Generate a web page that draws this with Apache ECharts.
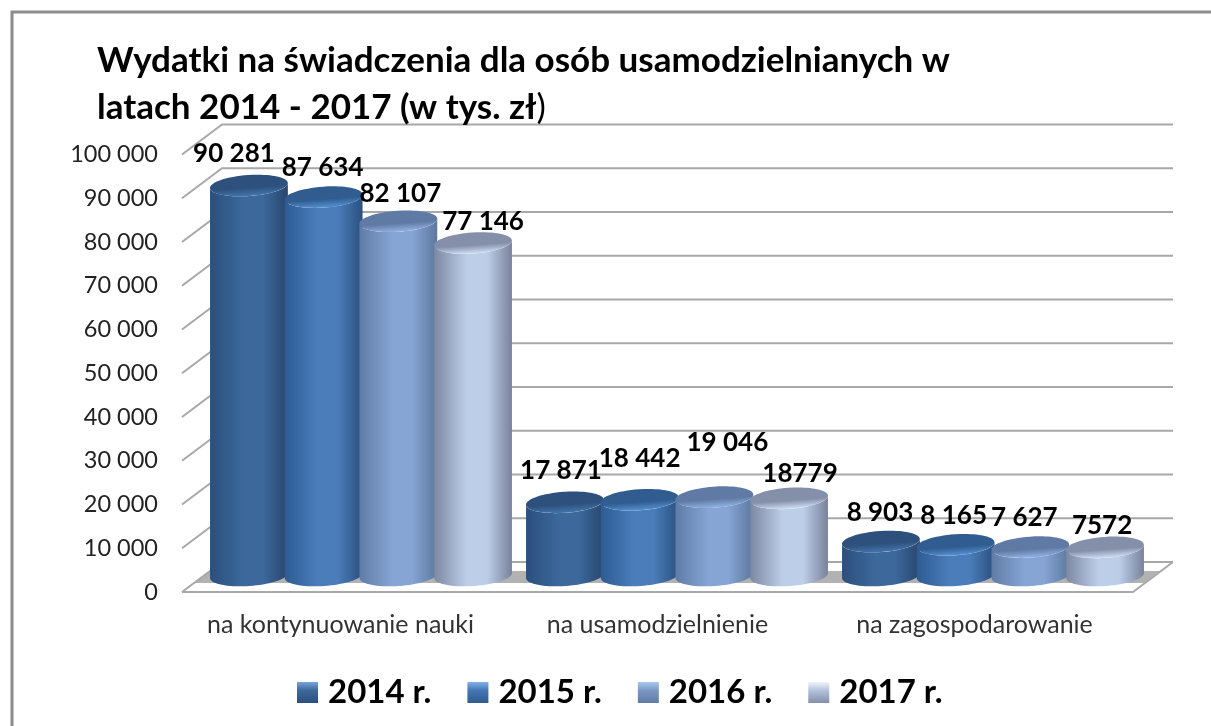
<!DOCTYPE html>
<html><head><meta charset="utf-8">
<style>html,body{margin:0;padding:0;background:#fff}#c{width:1211px;height:726px}</style>
<script src="https://cdn.jsdelivr.net/npm/echarts@6/dist/echarts.min.js"></script>
</head><body><div id="c"></div>
<script>
const categories = ['na kontynuowanie nauki', 'na usamodzielnienie', 'na zagospodarowanie'];
const years = ['2014 r.', '2015 r.', '2016 r.', '2017 r.'];
const values2014 = [90281, 17871, 8903];
const values2015 = [87634, 18442, 8165];
const values2016 = [82107, 19046, 7627];
const values2017 = [77146, 18779, 7572];
const labels2014 = ['90 281', '17 871', '8 903'];
const labels2015 = ['87 634', '18 442', '8 165'];
const labels2016 = ['82 107', '19 046', '7 627'];
const labels2017 = ['77 146', '18779', '7572'];
const tickValues = [0, 10000, 20000, 30000, 40000, 50000, 60000, 70000, 80000, 90000, 100000];

// hand-placed data label nudges (dx, dy from the cylinder's top centre)
const labelNudges = [
  [[-15, -32], [-4, -32], [-1, -29]],
  [[-1, -29], [0, -41], [-2, -29]],
  [[2, -28], [13, -55], [-6, -30]],
  [[10, -21], [11, -25], [-3, -22]]
];
const palette = [
  {edgeL:'#2b4f7d', mid:'#3c689c', edgeR:'#28466c', top:'#2d507c', rim:'#4276ae', lg:['#7aa4d8','#3c689c','#2c4f7c']},
  {edgeL:'#2e5b92', mid:'#4a7db9', edgeR:'#2a5080', top:'#305c90', rim:'#5590d0', lg:['#80b0ec','#4377b4','#2f5c90']},
  {edgeL:'#5f7ca6', mid:'#86a4d4', edgeR:'#5c789f', top:'#5f7ba5', rim:'#92b2e4', lg:['#a8c8f0','#7b98c4','#5f7ba5']},
  {edgeL:'#7d88a2', mid:'#bdcee9', edgeR:'#78829a', top:'#848fa9', rim:'#d0def4', lg:['#f0f4fc','#b4c2dc','#848fa9']}
];
const allValues = [values2014, values2015, values2016, values2017];
const allLabels = [labels2014, labels2015, labels2016, labels2017];

const DEPTH_X = 40, DEPTH_Y = 30, LINE = '#a8a8a8';
const TILT = -4 * Math.PI / 180;

function wallsItem(params, api) {
  const v = api.value(1), y = api.coord([0, v])[1], cs = params.coordSys;
  const x0 = cs.x, x1 = cs.x + cs.width;
  const children = [{
    type: 'polyline',
    shape: {points: [[x0, y], [x0 + DEPTH_X, y - DEPTH_Y], [x1 + DEPTH_X, y - DEPTH_Y]]},
    style: {stroke: LINE, lineWidth: 2, fill: null}
  }];
  if (v === 0) {
    children.unshift({
      type: 'polygon',
      shape: {points: [[x0 + 12, y - 9], [x0 + 28, y - 21], [x1 + 27, y - 21], [x1 + 11, y - 9]]},
      style: {fill: '#b2b2b2'}
    });
    children.push({
      type: 'polyline',
      shape: {points: [[x0, y], [x1, y], [x1 + DEPTH_X, y - DEPTH_Y]]},
      style: {stroke: LINE, lineWidth: 2, fill: null}
    });
  }
  return {type: 'group', children};
}

function cylinderItem(s) {
  return function (params, api) {
    const c = api.value(0), v = api.value(1);
    const pos = api.coord([c, v]);
    const band = api.size([1, 0])[0];
    const rx = band * 0.1234, ry = 10.5;
    const cx = pos[0] + (s - 1.5) * band * 0.2364;
    const topY = pos[1];
    const baseY = api.coord([c, 0])[1] - 5;
    const cosT = Math.cos(TILT), sinT = Math.sin(TILT);
    const pts = [];
    const n = 36;
    for (let i = 0; i <= n; i++) {
      const a = Math.PI * i / n;
      const ex = rx * Math.cos(a), ey = ry * Math.sin(a);
      pts.push([cx + ex * cosT - ey * sinT, baseY + ex * sinT + ey * cosT]);
    }
    for (let i = n; i >= 0; i--) {
      const a = Math.PI * i / n;
      const ex = rx * Math.cos(a), ey = ry * Math.sin(a);
      pts.push([cx + ex * cosT - ey * sinT, topY + ex * sinT + ey * cosT]);
    }
    const p = palette[s];
    return {
      type: 'group',
      children: [
        {type: 'polygon', shape: {points: pts}, style: {fill: {
          type: 'linear', x: 0, y: 0, x2: 1, y2: 0,
          colorStops: [{offset: 0, color: p.edgeL}, {offset: 0.42, color: p.mid}, {offset: 0.68, color: p.mid}, {offset: 1, color: p.edgeR}]
        }}},
        {type: 'ellipse', shape: {cx: 0, cy: 0, rx: rx, ry: ry}, x: cx, y: topY, rotation: -TILT,
          style: {fill: {
            type: 'linear', x: 0, y: 0, x2: 0, y2: 1,
            colorStops: [{offset: 0, color: p.top}, {offset: 0.6, color: p.top}, {offset: 1, color: p.rim}]
          }}},
        {type: 'text', z2: 200,
          x: cx + labelNudges[s][c][0], y: topY + labelNudges[s][c][1],
          style: {text: allLabels[s][c], fill: '#000', font: 'bold 26px Lato', align: 'center', verticalAlign: 'middle'}}
      ]
    };
  };
}

const bevel = p => ({type: 'linear', x: 0, y: 0, x2: 0, y2: 1, colorStops: [
  {offset: 0, color: p.lg[0]}, {offset: 0.4, color: p.lg[1]}, {offset: 1, color: p.lg[2]}]});

const option = {
  animation: false,
  backgroundColor: '#fff',
  title: {
    left: 97, top: 37, padding: 0,
    text: '{b|Wydatki na świadczenia dla osób usamodzielnianych w}\n{b|latach 2014 - 2017 (w tys. zł}{n|)}',
    textStyle: {rich: {
      b: {fontFamily: 'Lato', fontWeight: 'bold', fontSize: 35, color: '#000', lineHeight: 47},
      n: {fontFamily: 'Lato', fontWeight: 'normal', fontSize: 35, color: '#000', lineHeight: 47}
    }}
  },
  legend: {
    data: years, left: 292, top: 671, itemWidth: 21, itemHeight: 21, itemGap: 36,
    icon: 'rect',
    textStyle: {fontFamily: 'Lato', fontWeight: 'bold', fontSize: 33, color: '#000', padding: [0, 0, 0, 5]}
  },
  grid: [
    {left: 182, top: 154.5, width: 951, height: 437.5},
    {left: 203, top: 143, width: 948, height: 437.5}
  ],
  xAxis: [
    {type: 'category', gridIndex: 0, data: categories,
      axisLine: {show: false}, axisTick: {show: false},
      axisLabel: {margin: 20, interval: 0, hideOverlap: false, fontFamily: 'Lato', fontSize: 25, color: '#333'}},
    {type: 'category', gridIndex: 1, data: categories, show: false}
  ],
  yAxis: [
    {type: 'value', gridIndex: 0, min: 0, max: 100000, interval: 10000,
      axisLine: {show: false}, axisTick: {show: false}, splitLine: {show: false},
      axisLabel: {margin: 24, fontFamily: 'Lato', fontSize: 23.5, color: '#222',
        formatter: v => String(v).replace(/\B(?=(\d{3})+$)/g, ' ')}},
    {type: 'value', gridIndex: 1, min: 0, max: 100000, interval: 10000, show: false}
  ],
  graphic: [{
    type: 'polyline', silent: true,
    shape: {points: [[12, 726], [12, 12], [1211, 12]]},
    style: {stroke: '#8c8c8c', lineWidth: 3, fill: null}
  }],
  series: [
    {type: 'custom', name: 'walls', xAxisIndex: 0, yAxisIndex: 0, z: 1, silent: true, clip: false,
      data: tickValues.map(t => [0, t]), encode: {x: 0, y: 1}, renderItem: wallsItem},
    ...years.map((name, s) => ({
      type: 'custom', name, xAxisIndex: 1, yAxisIndex: 1, z: 2, clip: false,
      itemStyle: {color: bevel(palette[s])},
      data: allValues[s].map((v, i) => [i, v]), encode: {x: 0, y: 1},
      renderItem: cylinderItem(s)
    }))
  ]
};
const chart = echarts.init(document.getElementById('c'), null, {renderer: 'canvas'});
chart.setOption(option);
</script></body></html>
